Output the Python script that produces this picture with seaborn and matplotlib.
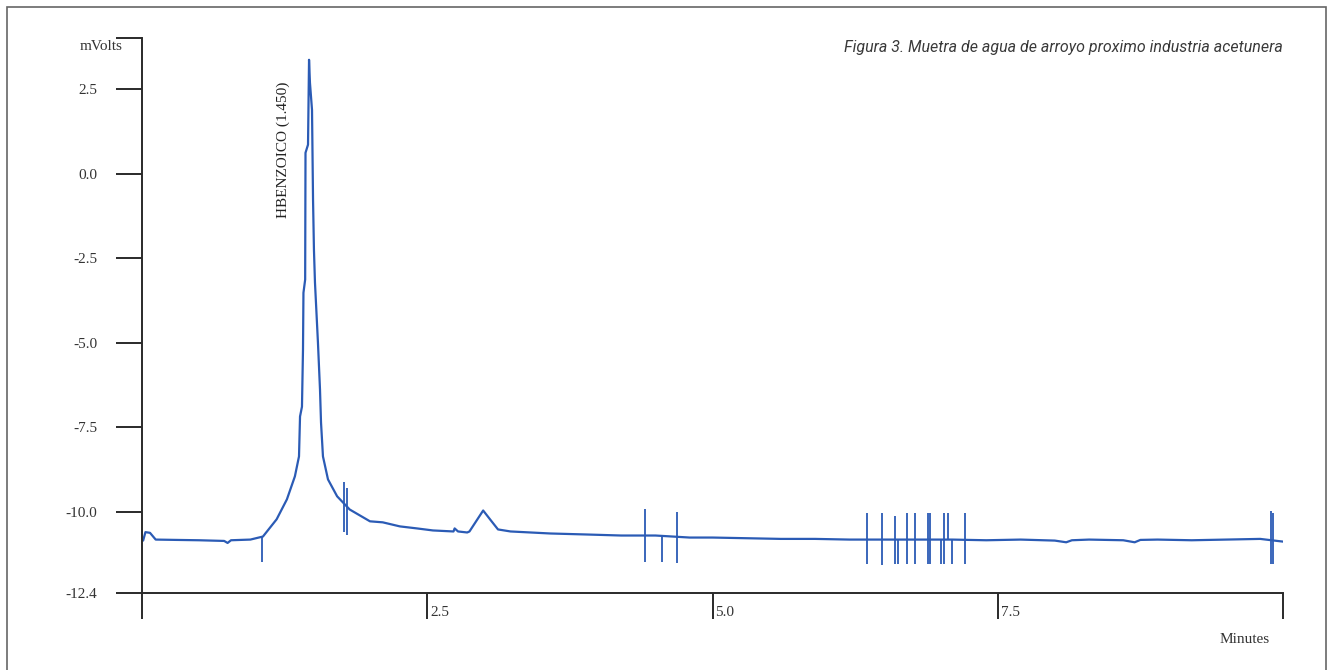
import numpy as np
import pandas as pd
import matplotlib
matplotlib.use("Agg")
import matplotlib.pyplot as plt
import matplotlib.transforms as mtransforms
from matplotlib.patches import Rectangle
import seaborn as sns

# chromatogram trace (minutes, mVolts)
trace_t = [0.01, 0.03, 0.07, 0.12, 0.30, 0.50, 0.72, 0.75, 0.78, 0.95, 1.06,
           1.18, 1.27, 1.34, 1.376, 1.385, 1.402, 1.411, 1.415, 1.43, 1.433, 1.455, 1.464,
           1.472, 1.49, 1.499, 1.507, 1.516, 1.542, 1.56, 1.569, 1.586, 1.63, 1.71, 1.82, 1.998,
           2.11, 2.26, 2.41, 2.55, 2.73, 2.74, 2.77, 2.85, 2.87, 2.99, 3.05, 3.12, 3.23, 3.58,
           3.90, 4.20, 4.50, 4.80, 5.00, 5.30, 5.60, 5.90, 6.20, 6.50, 6.80, 7.10, 7.40, 7.70,
           8.00, 8.10, 8.15, 8.30, 8.60, 8.70, 8.75, 8.90, 9.20, 9.50, 9.80, 10.0]
trace_v = [-10.85, -10.60, -10.62, -10.82, -10.83, -10.84, -10.86, -10.92, -10.84, -10.82, -10.73,
           -10.22, -9.63, -8.95, -8.36, -7.18, -6.89, -5.20, -3.52, -3.13, 0.62, 0.86, 3.37,
           2.69, 1.89, -0.77, -2.25, -3.22, -4.99, -6.38, -7.36, -8.36, -9.04, -9.54, -9.93, -10.28,
           -10.31, -10.43, -10.49, -10.55, -10.58, -10.49, -10.58, -10.61, -10.58, -9.96, -10.22, -10.52, -10.58, -10.64,
           -10.67, -10.70, -10.70, -10.76, -10.76, -10.78, -10.80, -10.80, -10.82, -10.82, -10.82, -10.82, -10.84, -10.82,
           -10.85, -10.90, -10.84, -10.82, -10.84, -10.90, -10.83, -10.82, -10.84, -10.82, -10.80, -10.88]

# integration marks (vertical ticks on the trace)
spike_t = [1.05, 1.77, 1.80, 4.41, 4.56, 4.69,
           6.354, 6.486, 6.60, 6.626, 6.705, 6.775, 6.889, 6.906, 7.003, 7.029, 7.064, 7.099, 7.213,
           9.895, 9.91]
spike_top = [-10.73, -9.13, -9.28, -9.93, -10.67, -9.99,
             -10.02, -10.02, -10.11, -10.82, -10.02, -10.02, -10.02, -10.02, -10.82, -10.02, -10.02, -10.82, -10.02,
             -9.96, -10.02]
spike_bottom = [-11.47, -10.61, -10.67, -11.47, -11.47, -11.52,
                -11.55, -11.58, -11.55, -11.55, -11.55, -11.55, -11.55, -11.55, -11.55, -11.55, -10.82, -11.55, -11.55,
                -11.55, -11.55]

x_ticks = [0, 2.5, 5.0, 7.5, 10.0]
x_labels = ["", "2.5", "5.0", "7.5", ""]
y_ticks = [-12.4, -10.0, -7.5, -5.0, -2.5, 0.0, 2.5, 4.0]
y_labels = ["-12.4", "-10.0", "-7.5", "-5.0", "-2.5", "0.0", "2.5", ""]

peak_label = "HBENZOICO (1.450)"
peak_label_t = 1.236
peak_label_v = 2.72
title = "Figura 3. Muetra de agua de arroyo proximo industria acetunera"

blue = "#2b5bb5"
ink = "#2a2a2a"

sns.set_theme(style="white")
plt.rcParams["font.family"] = ["Liberation Serif", "DejaVu Serif"]

fig = plt.figure(figsize=(13.32, 6.70), dpi=100)
ax = fig.add_axes([142 / 1332, 1 - 593 / 670, 1141 / 1332, 554.5 / 670])

df = pd.DataFrame({"t": trace_t, "v": trace_v})
sns.lineplot(data=df, x="t", y="v", ax=ax, color=blue, lw=1.6,
             estimator=None, sort=False)
ax.vlines(spike_t, spike_bottom, spike_top, color=blue, lw=1.3)

ax.set_xlim(0, 10)
ax.set_ylim(-12.4, 4.0)
for s in ["top", "right"]:
    ax.spines[s].set_visible(False)
for s in ["left", "bottom"]:
    ax.spines[s].set_color(ink)
    ax.spines[s].set_linewidth(1.4)

ax.set_xticks(x_ticks)
ax.set_xticklabels(x_labels)
ax.set_yticks(y_ticks)
ax.set_yticklabels(y_labels)
ax.tick_params(axis="both", direction="out", length=19, width=1.4, color=ink,
               labelsize=11, labelcolor="#333333", bottom=True, left=True)
ax.tick_params(axis="y", pad=13)
ax.tick_params(axis="x", pad=-10)
shift = mtransforms.ScaledTranslation(0.03, 0, fig.dpi_scale_trans)
for lab in ax.get_xticklabels():
    lab.set_horizontalalignment("left")
    lab.set_transform(lab.get_transform() + shift)

ax.set_xlabel("Minutes", fontsize=11, color="#333333")
ax.xaxis.set_label_coords(0.9886, -0.072)
ax.xaxis.label.set_horizontalalignment("right")
ax.set_ylabel("mVolts", fontsize=11, color="#333333", rotation=0)
ax.yaxis.set_label_coords(-0.0175, 0.986)
ax.yaxis.label.set_horizontalalignment("right")
ax.yaxis.label.set_verticalalignment("center")

ax.text(peak_label_t, peak_label_v, peak_label, rotation=90, ha="center", va="top",
        fontsize=11, color="#222222")
ax.text(1.0, 0.983, title, transform=ax.transAxes, ha="right", va="center",
        fontsize=11.5, style="italic", color="#3a3a3a",
        family=["Roboto", "DejaVu Sans"])

# scanned page frame
fig.patches.append(Rectangle((7 / 1332, -0.05), 1319 / 1332, 1.05 - 7 / 670,
                             transform=fig.transFigure, fill=False,
                             edgecolor="#666666", lw=1.2))

fig.savefig("out.png", dpi=100)
